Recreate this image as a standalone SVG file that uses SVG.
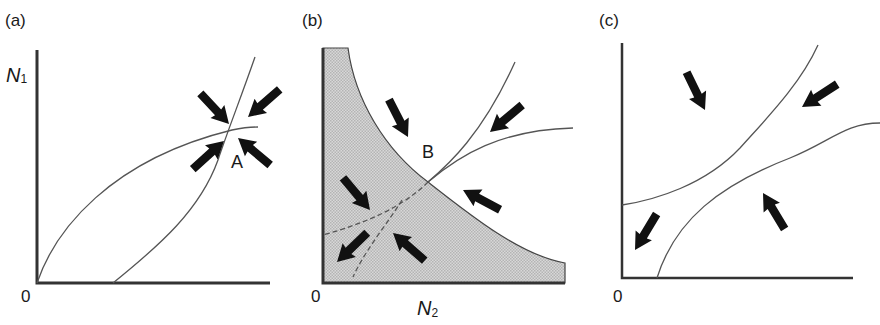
<svg xmlns="http://www.w3.org/2000/svg" xmlns:xlink="http://www.w3.org/1999/xlink" width="880" height="325" viewBox="0 0 880 325">
<style>
.lbl{font-family:"Liberation Sans",Arial,sans-serif;font-size:17px;fill:#1a1a1a}
.big{font-size:20px}
.pt{font-size:18px}
.it{font-style:italic}
.sub{font-size:12px}
.axis{stroke:#333;stroke-width:3;fill:none}
.axisc{stroke:#333;stroke-width:2.5;fill:none}
.curve{stroke:#555;stroke-width:1.3;fill:none}
.dash{stroke:#555;stroke-width:1.3;fill:none;stroke-dasharray:5 3}
.arr{fill:#111}
</style>
<defs>
<path id="arrow" d="M0,0 L-17,-9.5 L-16,-4.2 L-42,-4.2 L-42,4.2 L-16,4.2 L-17,9.5 Z"/>
<pattern id="dots" width="3" height="3" patternUnits="userSpaceOnUse">
<rect width="3" height="3" fill="#d8d8d8"/>
<rect width="1.5" height="1.5" fill="#b4b4b4"/>
<rect x="1.5" y="1.5" width="1.5" height="1.5" fill="#b4b4b4"/>
</pattern>
</defs>
<rect width="880" height="325" fill="#fff"/>

<g id="panel-a">
<text class="lbl" x="5" y="26">(a)</text>
<text class="lbl big it" x="6" y="82">N<tspan class="sub" font-style="normal" dy="1">1</tspan></text>
<text class="lbl" x="21" y="302">0</text>
<path class="axis" d="M37,50 L37,283 L270,283"/>
<path class="curve" d="M37,283 C55,230 110,160 232,130 C242,128 250,127 258,127"/>
<path class="curve" d="M113,283 C160,245 200,210 218,160 C228,130 240,100 255,57"/>
<g class="arr">
<use xlink:href="#arrow" transform="translate(229,124) rotate(47)"/>
<use xlink:href="#arrow" transform="translate(248,117) rotate(139)"/>
<use xlink:href="#arrow" transform="translate(224,141) rotate(-42)"/>
<use xlink:href="#arrow" transform="translate(238,138) rotate(-140)"/>
</g>
<text class="lbl pt" x="231" y="168">A</text>
</g>

<g id="panel-b">
<text class="lbl" x="302" y="26">(b)</text>
<path d="M323,48 L348,48 C355,100 385,150 428,182 C470,215 520,255 565,263 L565,283 L323,283 Z" fill="url(#dots)" stroke="#444" stroke-width="1.2"/>
<path class="axis" d="M323,48 L323,283 L565,283"/>
<path class="curve" d="M428,182 C448,165 482,135 515,62"/>
<path class="curve" d="M428,182 C460,155 500,130 573,128"/>
<path class="dash" d="M428,182 C405,205 370,222 323,235"/>
<path class="dash" d="M402,200 C390,220 365,250 353,277"/>
<g class="arr">
<use xlink:href="#arrow" transform="translate(408,137) rotate(63)"/>
<use xlink:href="#arrow" transform="translate(490,132) rotate(140)"/>
<use xlink:href="#arrow" transform="translate(463,190) rotate(208)"/>
<use xlink:href="#arrow" transform="translate(370,210) rotate(50)"/>
<use xlink:href="#arrow" transform="translate(337,262) rotate(136)"/>
<use xlink:href="#arrow" transform="translate(393,233) rotate(221)"/>
</g>
<text class="lbl pt" x="422" y="158">B</text>
<text class="lbl" x="311" y="302">0</text>
<text class="lbl big it" x="417" y="315">N<tspan class="sub" font-style="normal" dy="2">2</tspan></text>
</g>

<g id="panel-c">
<text class="lbl" x="599" y="26">(c)</text>
<path class="axisc" d="M622,43 L622,278 L853,278"/>
<path class="curve" d="M622,205 C655,200 705,185 740,148 C765,120 800,85 818,45"/>
<path class="curve" d="M657,278 C675,220 720,185 790,158 C830,142 845,123 880,123"/>
<g class="arr">
<use xlink:href="#arrow" transform="translate(705,110) rotate(64)"/>
<use xlink:href="#arrow" transform="translate(802,107) rotate(147)"/>
<use xlink:href="#arrow" transform="translate(635,250) rotate(121)"/>
<use xlink:href="#arrow" transform="translate(763,193) rotate(239)"/>
</g>
<text class="lbl" x="613" y="302">0</text>
</g>
</svg>
